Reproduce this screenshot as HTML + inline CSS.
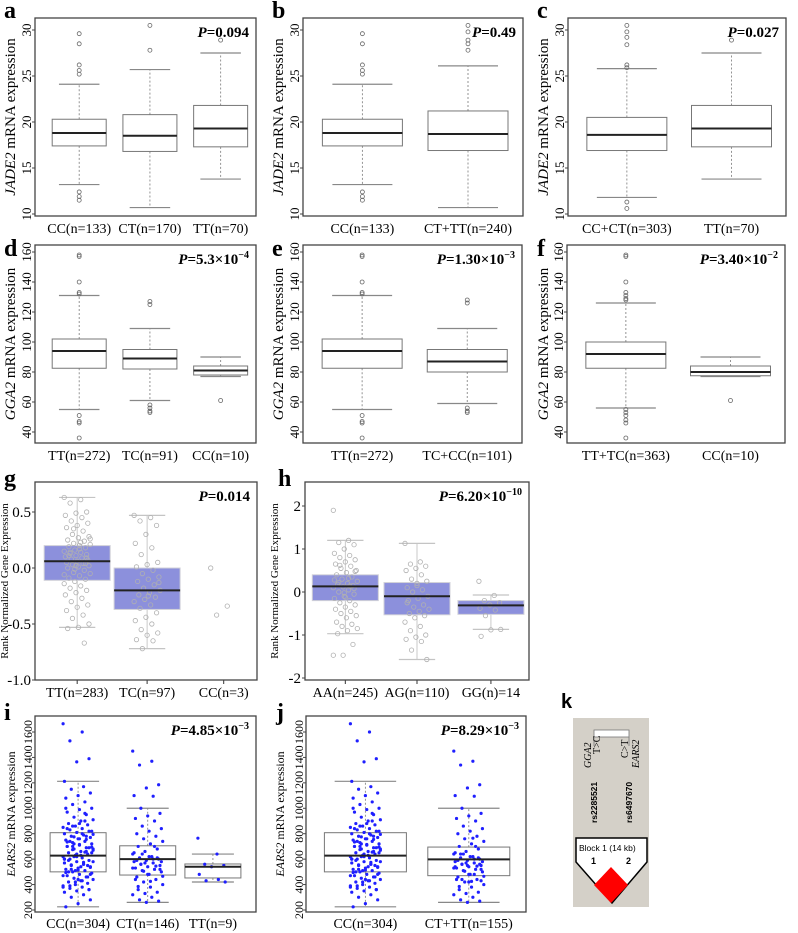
<!DOCTYPE html>
<html><head><meta charset="utf-8">
<style>
html,body{margin:0;padding:0;background:#fff;}
svg{display:block;font-family:"Liberation Serif",serif;}
</style></head>
<body>
<svg id="fig" width="798" height="933" viewBox="0 0 798 933" xmlns="http://www.w3.org/2000/svg">
  <g>
    <text x="561" y="708" font-family="Liberation Sans,sans-serif" font-weight="bold" font-size="20">k</text>
    <rect x="573" y="718" width="76" height="189" fill="#d4d0c8"/>
    <rect x="594" y="730" width="35" height="7" fill="#fff" stroke="#777" stroke-width="0.8"/>
    <line x1="594" y1="737" x2="594" y2="746" stroke="#777" stroke-width="0.8"/>
    <line x1="629" y1="737" x2="629" y2="746" stroke="#777" stroke-width="0.8"/>
    <text transform="translate(591,768) rotate(-90)" font-size="10" font-style="italic">GGA2</text>
    <text transform="translate(600,754) rotate(-90)" font-size="10">T&gt;C</text>
    <text transform="translate(628,758) rotate(-90)" font-size="10">C&gt;T</text>
    <text transform="translate(639,768) rotate(-90)" font-size="10" font-style="italic">EARS2</text>
    <text transform="translate(597,823) rotate(-90)" font-family="Liberation Sans,sans-serif" font-weight="bold" font-size="8.5">rs2285521</text>
    <text transform="translate(632,823) rotate(-90)" font-family="Liberation Sans,sans-serif" font-weight="bold" font-size="8.5">rs6497670</text>
    <polygon points="576,838 647,838 647,862 612,903 576,862" fill="#fff" stroke="#000" stroke-width="1.5"/>
    <polygon points="611,867 628,885 611,903 594,885" fill="#ff0000"/>
    <text x="579" y="851" font-family="Liberation Sans,sans-serif" font-size="8.5">Block 1 (14 kb)</text>
    <text x="591" y="864" font-family="Liberation Sans,sans-serif" font-weight="bold" font-size="9">1</text>
    <text x="626" y="864" font-family="Liberation Sans,sans-serif" font-weight="bold" font-size="9">2</text>
  </g>
</svg>
<script>
// ---------- data ----------
const jadeCC = [13.2, 17.4, 18.8, 20.3, 24.1];
const jadeCCout = [29.6, 28.5, 26.2, 25.6, 25.2, 12.4, 11.9, 11.5];
const jadeCT = [10.7, 16.8, 18.5, 20.8, 25.7];
const jadeCTout = [30.5, 27.8];
const jadeTT = [13.8, 17.3, 19.3, 21.8, 27.5];
const jadeTTout = [28.9];
const jadeCTTT = [10.7, 16.9, 18.7, 21.2, 26.1];
const jadeCTTTout = [30.5, 29.8, 28.9, 28.5, 27.8];
const jadeCCCT = [11.8, 16.9, 18.6, 20.5, 25.8];
const jadeCCCTout = [30.5, 29.8, 29.2, 28.4, 26.2, 25.9, 11.3, 10.6];
const jadeTicks = [10, 15, 20, 25, 30];
const ggaTT = [55, 82.5, 94, 102, 131];
const ggaTTout = [158, 157, 140, 133, 132, 51, 47, 46, 36];
const ggaTC = [61, 82, 89, 95, 109];
const ggaTCout = [127, 125, 58, 56, 54, 53];
const ggaCC = [77, 78, 81, 84, 90];
const ggaCCout = [61];
const ggaTCCC = [59, 80, 87, 95, 109];
const ggaTCCCout = [128, 126, 56, 54, 53];
const ggaTTTC = [56, 82.5, 92, 100, 126];
const ggaTTTCout = [158, 157, 140, 133, 131, 129, 128, 55, 53, 51, 48, 46, 36];
const ggaCC2 = [77, 77.5, 80, 84, 90];
const ggaTicks = [40, 60, 80, 100, 120, 140, 160];
const gTT = [-0.53, -0.11, 0.06, 0.2, 0.63];
const gTC = [-0.72, -0.37, -0.2, 0.0, 0.47];
const gTTpts = [0.63,0.61,0.58,0.5,0.49,0.47,0.45,0.42,0.4,0.38,0.36,0.33,0.3,0.28,0.27,0.25,0.24,0.22,0.21,0.2,0.19,0.18,0.16,0.15,0.14,0.13,0.12,0.11,0.1,0.09,0.08,0.07,0.06,0.05,0.04,0.03,0.02,0.01,0,-0.02,-0.04,-0.05,-0.07,-0.09,-0.1,-0.12,-0.14,-0.16,-0.18,-0.2,-0.22,-0.24,-0.27,-0.3,-0.33,-0.35,-0.38,-0.42,-0.45,-0.5,-0.53,-0.54,-0.67,0.35,0.26,0.17,0.11,0.04,-0.01,-0.06,0.23,0.14,0.09,0.02];
const gTCpts = [0.47,0.45,0.42,0.38,0.3,0.22,0.18,0.12,0.05,0.03,0.01,-0.02,-0.05,-0.08,-0.1,-0.12,-0.15,-0.18,-0.2,-0.22,-0.24,-0.26,-0.28,-0.3,-0.33,-0.36,-0.4,-0.44,-0.47,-0.5,-0.55,-0.58,-0.6,-0.64,-0.65,-0.72,-0.13,-0.25];
const gCCpts = [0.0, -0.34, -0.42];
const gTicks = [-1.0, -0.5, 0.0, 0.5];
const gTickLabels = ["-1.0", "-0.5", "0.0", "0.5"];
const hAA = [-0.97, -0.2, 0.13, 0.4, 1.2];
const hAG = [-1.57, -0.53, -0.1, 0.22, 1.13];
const hGG = [-0.87, -0.52, -0.31, -0.2, -0.07];
const hAApts = [1.9,1.2,1.15,1.1,1.0,0.9,0.85,0.8,0.75,0.7,0.65,0.6,0.55,0.5,0.45,0.4,0.35,0.3,0.25,0.2,0.18,0.15,0.12,0.1,0.05,0,-0.05,-0.1,-0.15,-0.2,-0.25,-0.3,-0.35,-0.4,-0.45,-0.5,-0.55,-0.6,-0.7,-0.75,-0.8,-0.85,-0.9,-0.97,-1.22,-1.47,-1.47,0.32,0.22,0.08,-0.02,0.28,0.14,0.62,0.48,-0.12];
const hAGpts = [1.13,0.7,0.65,0.6,0.55,0.5,0.4,0.3,0.25,0.2,0.1,0.05,0,-0.1,-0.15,-0.2,-0.3,-0.35,-0.4,-0.45,-0.5,-0.55,-0.6,-0.7,-0.8,-0.9,-1.0,-1.05,-1.1,-1.15,-1.35,-1.57,0.15,-0.25];
const hGGpts = [0.25,-0.08,-0.2,-0.25,-0.3,-0.38,-0.42,-0.55,-0.87,-0.88,-1.03];
const hTicks = [-2, -1, 0, 1, 2];
const eCC = [225, 500, 628, 808, 1212];
const eCT = [260, 475, 600, 705, 1000];
const eTT = [420, 452, 540, 562, 640];
const eCTTT = [260, 470, 598, 695, 1000];
const eCCpts = [1665,1600,1530,1390,1365,1212,1170,1150,1120,1100,1080,1050,1030,1000,990,970,950,930,910,900,880,870,860,850,840,830,820,810,800,790,780,770,760,750,740,730,720,710,700,690,680,670,660,650,640,630,620,610,600,590,580,570,560,550,540,530,520,510,500,490,480,470,460,450,440,430,420,410,400,390,380,370,360,350,340,320,300,280,250,225,900,860,820,760,700,660,620,580,540,500,460,420,380,800,740,690,640,600,560,520,480,440,1000,960,700,650,880,840,780,720,680,630,590,550,510,470,430,390,360,620,600,575,555,535,515,495,655,675,695,715,735,755,775,795];
const eCTpts = [1450,1370,1340,1185,1160,1100,1095,1000,960,940,920,900,860,840,820,800,780,760,740,720,700,680,660,640,620,610,600,590,580,570,560,550,540,530,520,510,500,480,460,440,420,400,380,360,340,330,320,300,280,270,260,650,600,560,520,480,440,700,640,580,620,590,545,505,465,425,385,610,570,530];
const eTTpts = [765, 640, 560, 550, 540, 480, 440, 430, 420];
const eTicks = [200, 400, 600, 800, 1000, 1200, 1400, 1600];

// ---------- drawing ----------
const NS = "http://www.w3.org/2000/svg";
const svg = document.getElementById("fig");
function mk(tag, attrs, parent) {
  const e = document.createElementNS(NS, tag);
  for (const k in attrs) e.setAttribute(k, attrs[k]);
  (parent || svg).appendChild(e);
  return e;
}
function linScale(v1, p1, v2, p2) { return v => p1 + (v - v1) * (p2 - p1) / (v2 - v1); }

function panel(cfg) {
  const g = mk("g", {});
  
  
  const y = cfg.y;
  const {x0, x1, y0, y1} = cfg;
  const lbl = mk("text", {x: cfg.lx, y: cfg.ly, "font-weight": "bold", "font-size": 24}, g);
  lbl.textContent = cfg.letter;
  
  
  cfg.groups.forEach((gr, i) => {
    const cx = x0 + (x1 - x0) * cfg.pos[i];
    const hw = cfg.hw;
    const gg = mk("g", {}, g);
    
    
    const s = gr.stats;
    if (s) {
      const wc = cfg.style === "blue" ? "#c4c4c4" : "#888";
      const dash = cfg.style === "blue" ? "" : "2,2";
      mk("line", {x1: cx, x2: cx, y1: y(s[3]), y2: y(s[4]), stroke: wc, "stroke-dasharray": dash, "stroke-width": 0.9}, gg);
      mk("line", {x1: cx, x2: cx, y1: y(s[1]), y2: y(s[0]), stroke: wc, "stroke-dasharray": dash, "stroke-width": 0.9}, gg);
      const cw = cfg.style === "blue" ? hw * 0.55 : hw * 0.75;
      mk("line", {x1: cx - cw, x2: cx + cw, y1: y(s[4]), y2: y(s[4]), stroke: wc, "stroke-width": 1.2}, gg);
      mk("line", {x1: cx - cw, x2: cx + cw, y1: y(s[0]), y2: y(s[0]), stroke: wc, "stroke-width": 1.2}, gg);
      mk("rect", {x: cx - hw, y: y(s[3]), width: 2 * hw, height: y(s[1]) - y(s[3]),
        fill: cfg.style === "blue" ? "#8c90dc" : "#fff", stroke: cfg.style === "blue" ? "#d0d0d8" : "#777", "stroke-width": 1}, gg);
    }
    (gr.pts || []).forEach((v, k) => {
      let px = cx;
      if (cfg.jitter) px = cx + (((k * 37) % 23) / 22 - 0.5) * cfg.jitter;
      const c = mk("circle", {cx: px, cy: y(v), r: cfg.pr,
        fill: cfg.style === "dots" ? "#1f1fff" : "none",
        stroke: cfg.style === "dots" ? "none" : (cfg.style === "blue" ? "#b0b0b0" : "#666"),
        "stroke-width": 0.8}, gg);
      
      
    });
    if (s) mk("line", {x1: cx - hw, x2: cx + hw, y1: y(s[2]), y2: y(s[2]), stroke: "#222", "stroke-width": 2}, gg);
    const t = mk("text", {x: cx, y: cfg.xly, "text-anchor": "middle", "font-size": 14}, g);
    t.textContent = gr.label;
    
    
    if (cfg.style === "blue") mk("line", {x1: cx, x2: cx, y1: y1, y2: y1 + 4, stroke: "#333"}, g);
  });
  const fr = mk("rect", {x: x0, y: y0, width: x1 - x0, height: y1 - y0, fill: "none", stroke: "#444", "stroke-width": 1.3}, g);
  
  
  cfg.ticks.forEach((v, i) => {
    const py = y(v);
    mk("line", {x1: x0 - 3, x2: x0, y1: py, y2: py, stroke: "#444"}, g);
    const lab = cfg.tickLabels ? cfg.tickLabels[i] : String(v);
    let t;
    if (cfg.rotTicks) {
      t = mk("text", {transform: `translate(${x0 - cfg.tickOff},${py}) rotate(-90)`, "text-anchor": "middle", "font-size": cfg.tickSize}, g);
    } else {
      t = mk("text", {x: x0 - 4, y: py + 5, "text-anchor": "end", "font-size": 15}, g);
    }
    t.textContent = lab;
    
    
  });
  const yt = mk("text", {transform: `translate(${cfg.ytx},${(y0 + y1) / 2}) rotate(-90)`, "text-anchor": "middle", "font-size": cfg.ytSize}, g);
  yt.innerHTML = cfg.ytitle;
  
  
  const p = mk("text", {x: x1 - 7, y: y0 + 19, "text-anchor": "end", "font-size": 15, "font-weight": "bold"}, g);
  p.innerHTML = cfg.p;
  
  
}
const jadeT = '<tspan font-style="italic">JADE2</tspan> mRNA expression';
const ggaT = '<tspan font-style="italic">GGA2</tspan> mRNA expression';
const earT = '<tspan font-style="italic">EARS2</tspan> mRNA expression';
const rankT = 'Rank Normalized Gene Expression';
function P(v, e) { return '<tspan font-style="italic">P</tspan>=' + v + (e ? '×10<tspan dy="-6" font-size="10">' + e + '</tspan>' : ''); }

const yJ = linScale(10, 214, 30, 30);
const yG = linScale(40, 432, 160, 252);
const yg = linScale(0, 568, 0.5, 512);
const yh = linScale(0, 592, 1, 549);
const yE = linScale(200, 910, 1600, 732);
const r1 = {y0: 18, y1: 216, y: yJ, ticks: jadeTicks, rotTicks: true, tickOff: 4, tickSize: 13, ytitle: jadeT, ytSize: 15, xly: 233, style: "plain", pr: 2};
const r2 = {y0: 245, y1: 443, y: yG, ticks: ggaTicks, rotTicks: true, tickOff: 4, tickSize: 13, ytitle: ggaT, ytSize: 15, xly: 460, style: "plain", pr: 2};
const r4 = {y0: 716, y1: 912, y: yE, ticks: eTicks, rotTicks: true, tickOff: 3, tickSize: 12, ytitle: earT, ytSize: 12, xly: 928, style: "dots", pr: 1.6};

panel(Object.assign({}, r1, {letter: "a", lx: 4, ly: 18, x0: 35, x1: 256, ytx: 15, pos: [0.2, 0.52, 0.84], hw: 27, p: P("0.094"),
  groups: [{label: "CC(n=133)", stats: jadeCC, pts: jadeCCout}, {label: "CT(n=170)", stats: jadeCT, pts: jadeCTout}, {label: "TT(n=70)", stats: jadeTT, pts: jadeTTout}]}));
panel(Object.assign({}, r1, {letter: "b", lx: 272, ly: 18, x0: 303, x1: 523, ytx: 283, pos: [0.27, 0.75], hw: 40, p: P("0.49"),
  groups: [{label: "CC(n=133)", stats: jadeCC, pts: jadeCCout}, {label: "CT+TT(n=240)", stats: jadeCTTT, pts: jadeCTTTout}]}));
panel(Object.assign({}, r1, {letter: "c", lx: 537, ly: 18, x0: 568, x1: 786, ytx: 548, pos: [0.27, 0.75], hw: 40, p: P("0.027"),
  groups: [{label: "CC+CT(n=303)", stats: jadeCCCT, pts: jadeCCCTout}, {label: "TT(n=70)", stats: jadeTT, pts: jadeTTout}]}));

panel(Object.assign({}, r2, {letter: "d", lx: 4, ly: 256, x0: 35, x1: 256, ytx: 15, pos: [0.2, 0.52, 0.84], hw: 27, p: P("5.3", "−4"),
  groups: [{label: "TT(n=272)", stats: ggaTT, pts: ggaTTout}, {label: "TC(n=91)", stats: ggaTC, pts: ggaTCout}, {label: "CC(n=10)", stats: ggaCC, pts: ggaCCout}]}));
panel(Object.assign({}, r2, {letter: "e", lx: 272, ly: 256, x0: 303, x1: 522, ytx: 283, pos: [0.27, 0.75], hw: 40, p: P("1.30", "−3"),
  groups: [{label: "TT(n=272)", stats: ggaTT, pts: ggaTTout}, {label: "TC+CC(n=101)", stats: ggaTCCC, pts: ggaTCCCout}]}));
panel(Object.assign({}, r2, {letter: "f", lx: 537, ly: 256, x0: 567, x1: 785, ytx: 548, pos: [0.27, 0.75], hw: 40, p: P("3.40", "−2"),
  groups: [{label: "TT+TC(n=363)", stats: ggaTTTC, pts: ggaTTTCout}, {label: "CC(n=10)", stats: ggaCC2, pts: ggaCCout}]}));

panel({letter: "g", lx: 4, ly: 486, x0: 35, x1: 257, y0: 482, y1: 680, y: yg, ticks: gTicks, tickLabels: gTickLabels, rotTicks: false,
  ytitle: rankT, ytSize: 11, ytx: 8, xly: 697, style: "blue", pr: 2.2, jitter: 26, pos: [0.19, 0.505, 0.85], hw: 33, p: P("0.014"),
  groups: [{label: "TT(n=283)", stats: gTT, pts: gTTpts}, {label: "TC(n=97)", stats: gTC, pts: gTCpts}, {label: "CC(n=3)", stats: null, pts: gCCpts}]});
panel({letter: "h", lx: 278, ly: 486, x0: 305, x1: 529, y0: 482, y1: 680, y: yh, ticks: hTicks, rotTicks: false,
  ytitle: rankT, ytSize: 11, ytx: 278, xly: 697, style: "blue", pr: 2.2, jitter: 24, pos: [0.18, 0.5, 0.83], hw: 33, p: P("6.20", "−10"),
  groups: [{label: "AA(n=245)", stats: hAA, pts: hAApts}, {label: "AG(n=110)", stats: hAG, pts: hAGpts}, {label: "GG(n)=14", stats: hGG, pts: hGGpts}]});

panel(Object.assign({}, r4, {letter: "i", lx: 4, ly: 720, x0: 35, x1: 256, ytx: 15, pos: [0.195, 0.51, 0.805], hw: 28, jitter: 30, p: P("4.85", "−3"),
  groups: [{label: "CC(n=304)", stats: eCC, pts: eCCpts}, {label: "CT(n=146)", stats: eCT, pts: eCTpts}, {label: "TT(n=9)", stats: eTT, pts: eTTpts}]}));
panel(Object.assign({}, r4, {letter: "j", lx: 276, ly: 720, x0: 306, x1: 526, ytx: 284, pos: [0.27, 0.74], hw: 41, jitter: 30, p: P("8.29", "−3"),
  groups: [{label: "CC(n=304)", stats: eCC, pts: eCCpts}, {label: "CT+TT(n=155)", stats: eCTTT, pts: eCTpts.concat(eTTpts)}]}));
</script>
</body></html>
